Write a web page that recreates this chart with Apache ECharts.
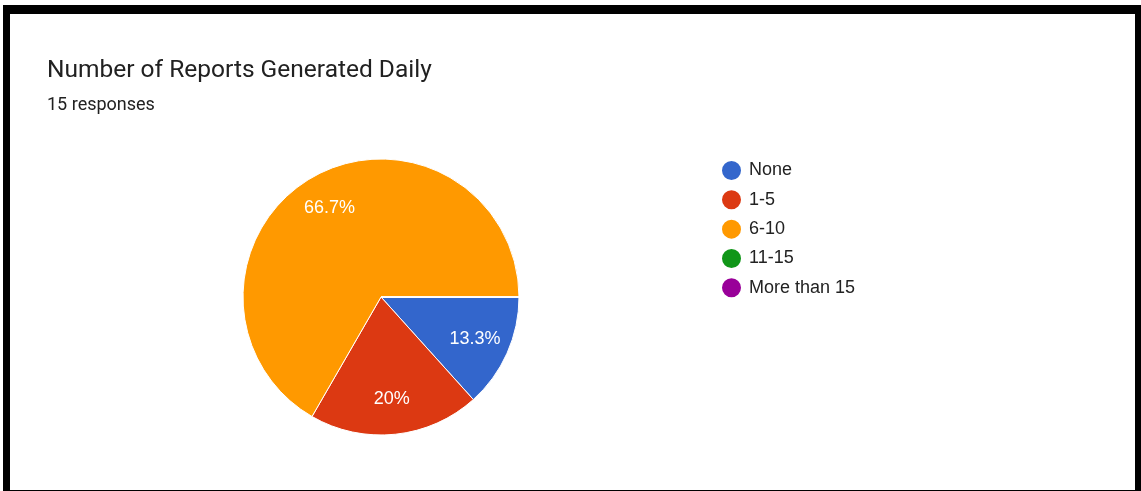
<!DOCTYPE html>
<html>
<head>
    <title>Number of Reports Generated Daily</title>
    <script src="https://cdn.jsdelivr.net/npm/echarts@6/dist/echarts.min.js"></script>
    <style>
        html, body { margin: 0; padding: 0; background: #fff; overflow: hidden; }
        #chartContainer { position: absolute; left: 0; top: 0; width: 1141px; height: 491px; }
        /* thick black frame round the screenshot */
        #frame {
            position: absolute; left: 3px; top: 5px;
            width: 1125px; height: 476px;
            border-style: solid; border-color: #000;
            border-width: 9px 6px 6px 7px;
            pointer-events: none;
        }
    </style>
</head>
<body>
    <div id="chartContainer"></div>
    <div id="frame"></div>

    <script>
        // answer options and counts (15 responses)
        const categories = ['None', '1-5', '6-10', '11-15', 'More than 15'];
        const counts = [2, 3, 10, 0, 0];
        const colors = ['#3366cc', '#dc3912', '#ff9900', '#109618', '#990099'];

        const chart = echarts.init(document.getElementById('chartContainer'));

        const pieData = categories.map((name, i) => ({
            name: name,
            value: counts[i],
            itemStyle: { color: colors[i] }
        }));

        const option = {
            animation: false,
            title: {
                text: 'Number of Reports Generated Daily',
                subtext: '15 responses',
                left: 42,
                top: 46,
                itemGap: 0,
                textStyle: { fontFamily: 'Roboto', fontSize: 24.5, fontWeight: 'normal', color: '#212121' },
                subtextStyle: { fontFamily: 'Roboto', fontSize: 18, color: '#212121' }
            },
            legend: {
                orient: 'vertical',
                left: 715,
                top: 150,
                icon: 'circle',
                itemWidth: 21,
                itemHeight: 21,
                itemGap: -1.7,
                data: categories,
                textStyle: { fontFamily: 'Liberation Sans', fontSize: 18, lineHeight: 19, color: '#222', padding: [0, 0, 0, 2] }
            },
            series: [
                {
                    // the slices
                    type: 'pie',
                    center: [381, 297],
                    radius: [0, 138],
                    startAngle: 0,
                    clockwise: true,
                    percentPrecision: 1,
                    itemStyle: { borderColor: '#fff', borderWidth: 1 },
                    label: { show: false },
                    labelLine: { show: false },
                    emphasis: { disabled: true },
                    data: pieData
                },
                {
                    // percentage labels, placed further out than the default inside position
                    type: 'pie',
                    center: [381, 297],
                    radius: [62, 138],
                    startAngle: 0,
                    clockwise: true,
                    percentPrecision: 1,
                    silent: true,
                    itemStyle: { color: 'rgba(0,0,0,0)', borderWidth: 0 },
                    label: {
                        show: true,
                        position: 'inside',
                        fontFamily: 'Liberation Sans',
                        fontSize: 18,
                        color: '#fff',
                        formatter: p => p.value ? p.percent + '%' : ''
                    },
                    labelLine: { show: false },
                    emphasis: { disabled: true },
                    data: categories.map((name, i) => ({ name: name, value: counts[i] }))
                }
            ]
        };

        chart.setOption(option);
    </script>
</body>
</html>
